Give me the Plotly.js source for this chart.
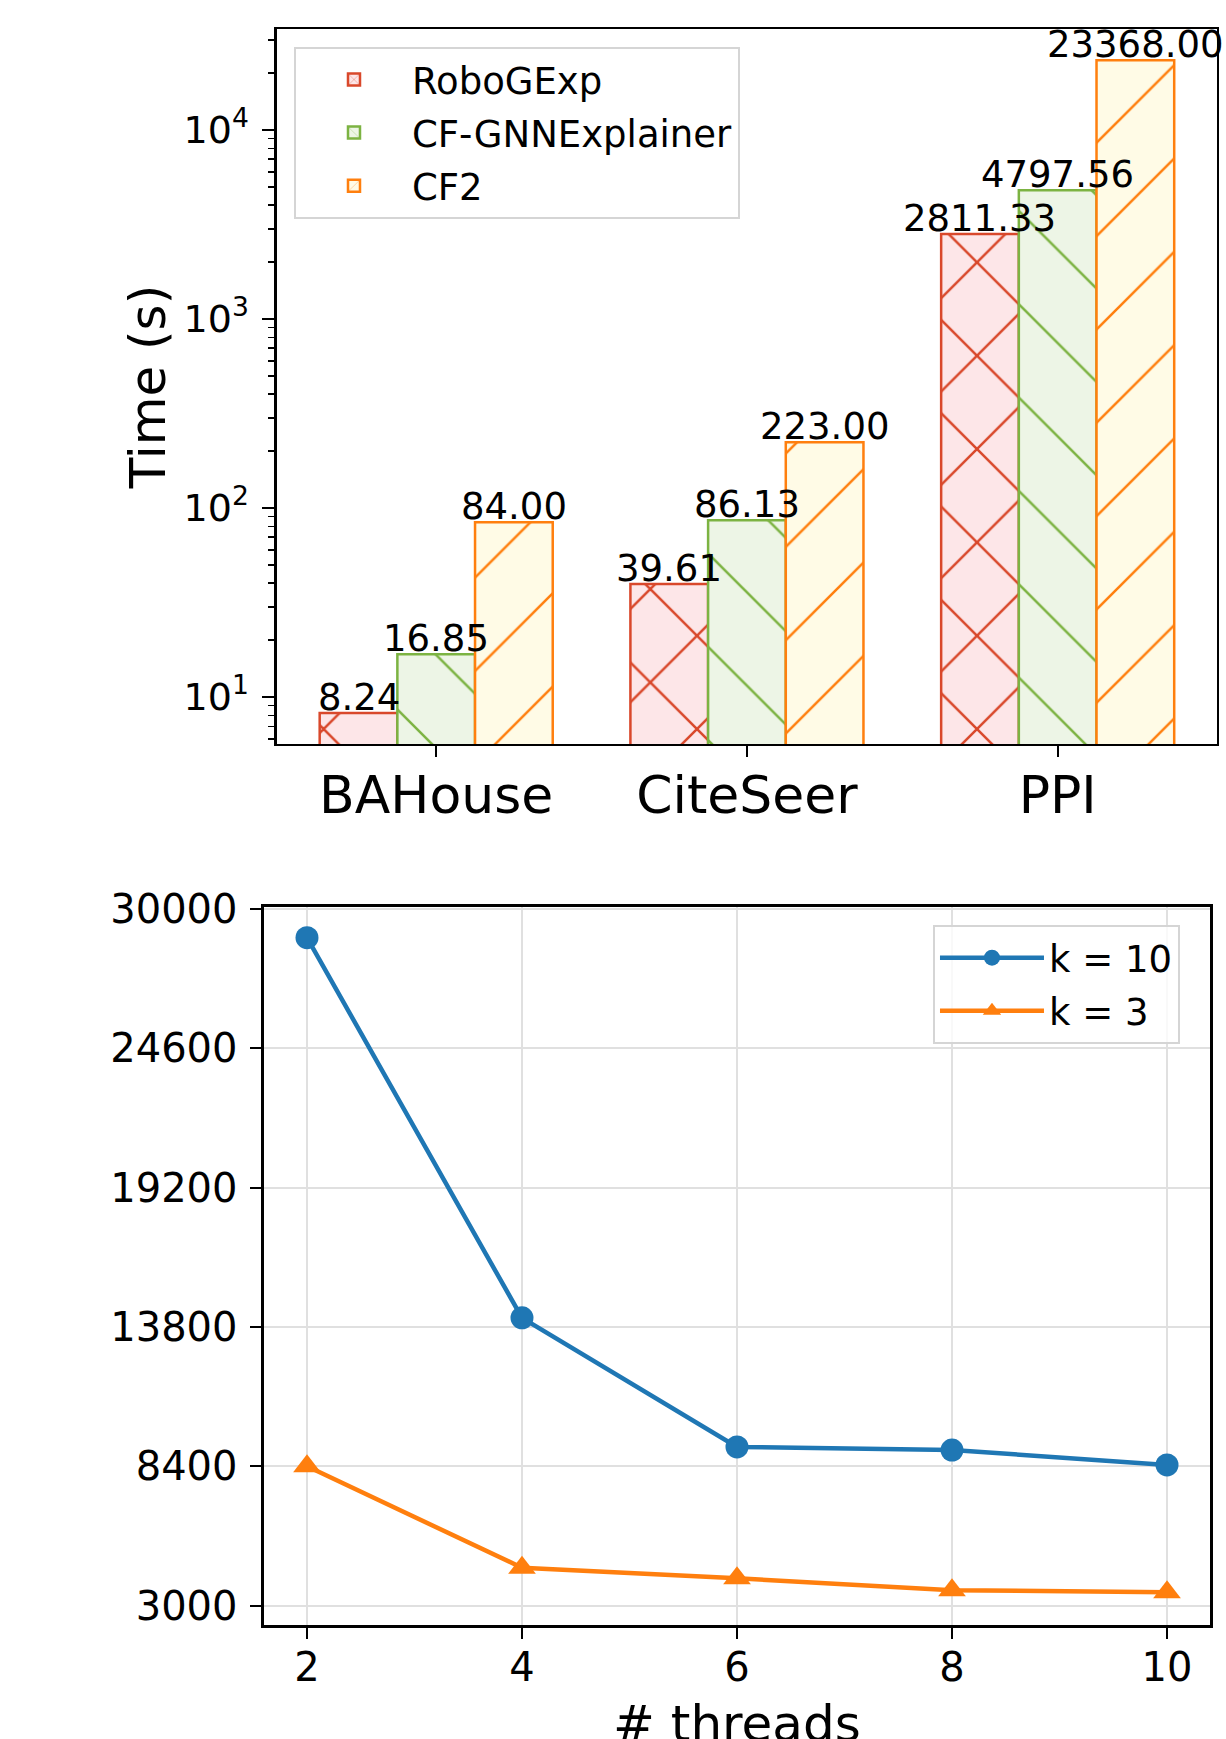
<!DOCTYPE html>
<html><head><meta charset="utf-8">
<script src="https://cdn.plot.ly/plotly-3.0.1.min.js"></script>
<style>html,body{margin:0;padding:0;background:#fff}</style>
</head><body>
<div id="chart" style="width:1226px;height:1739px"></div>
<script>
// ---- data: top chart ----
const datasets = ['BAHouse', 'CiteSeer', 'PPI'];
const methodNames = ['RoboGExp', 'CF-GNNExplainer', 'CF2'];
const roboGExp = [8.24, 39.61, 2811.33];
const cfGnnExplainer = [16.85, 86.13, 4797.56];
const cf2 = [84.00, 223.00, 23368.00];
const logTickVals = [10, 100, 1000, 10000];
const logTickText = ['10<sup>1</sup>', '10<sup>2</sup>', '10<sup>3</sup>', '10<sup>4</sup>'];

// ---- data: bottom chart ----
const threads = [2, 4, 6, 8, 10];
const timeK10 = [28880, 14150, 9150, 9030, 8450];
const timeK3 = [8400, 4470, 4060, 3600, 3520];
const seriesNames = ['k = 10', 'k = 3'];
const linTickVals = [3000, 8400, 13800, 19200, 24600, 30000];
const xTitle2 = '# threads';

// ---- styles ----
const edgeColors = ['#D9482B', '#7CB342', '#FF7F0E'];
const fillColors = ['#FDE6E8', '#EDF5E6', '#FFFBE6'];
const hatchShapes = ['x', '\\', '/'];
const hatchSolidity = [0.075, 0.038, 0.038];
const FONT = 'DejaVu Sans, Liberation Sans, sans-serif';

const minorTicks = [];
for (let e = 0; e <= 4; e++) for (let m = 2; m <= 9; m++) minorTicks.push(m * Math.pow(10, e));

const barSeries = [roboGExp, cfGnnExplainer, cf2];
const xIdx = datasets.map((_, i) => i);
const barWidth = 0.25;

const traces = [];
barSeries.forEach((vals, j) => {
  traces.push({
    type: 'bar', x: xIdx, y: vals, name: methodNames[j],
    xaxis: 'x', yaxis: 'y', legend: 'legend', legendgroup: methodNames[j],
    marker: {
      color: fillColors[j],
      line: {color: edgeColors[j], width: 2.5},
      pattern: {shape: hatchShapes[j], fillmode: 'overlay', fgcolor: edgeColors[j], fgopacity: 1,
                size: 66, solidity: hatchSolidity[j]}
    },
    hoverinfo: 'x+y'
  });
});
traces.push({
  type: 'scatter', mode: 'lines+markers', x: threads, y: timeK10, name: seriesNames[0],
  xaxis: 'x2', yaxis: 'y2', legend: 'legend2', legendgroup: 'a',
  line: {color: '#1F77B4', width: 4.5}, marker: {symbol: 'circle', size: 23, color: '#1F77B4'}
});
traces.push({
  type: 'scatter', mode: 'lines+markers', x: threads, y: timeK3, name: seriesNames[1],
  xaxis: 'x2', yaxis: 'y2', legend: 'legend2', legendgroup: 'b',
  line: {color: '#FF7F0E', width: 4.5}, marker: {symbol: 'triangle-up', size: 24, color: '#FF7F0E'}
});

// value labels above bars (positioned through the axes)
const annotations = [];
barSeries.forEach((vals, j) => {
  vals.forEach((v, i) => {
    annotations.push({
      xref: 'x', yref: 'y', x: i + (j - 1) * barWidth, y: Math.log10(v),
      text: v.toFixed(2), showarrow: false, xanchor: 'center', yanchor: 'bottom', yshift: -8,
      font: {size: 37, color: '#000', family: FONT}
    });
  });
});
const x2dom = [0.21533, 0.98695];
annotations.push({
  xref: 'paper', yref: 'paper', x: (x2dom[0] + x2dom[1]) / 2, y: 0.0265,
  text: xTitle2, showarrow: false, xanchor: 'center', yanchor: 'top',
  font: {size: 50, color: '#000', family: FONT}
});

const axisCommon = {
  showline: true, linecolor: '#000', linewidth: 2.5, mirror: true,
  ticks: 'outside', tickcolor: '#000', tickwidth: 2, zeroline: false, automargin: false
};

const layout = {
  width: 1226, height: 1739,
  margin: {l: 0, r: 0, t: 0, b: 0, pad: 0},
  paper_bgcolor: '#fff', plot_bgcolor: '#fff',
  font: {family: FONT, color: '#000'},
  barmode: 'group', bargap: 0.25, bargroupgap: 0,
  showlegend: true,
  annotations: annotations,
  xaxis: Object.assign({}, axisCommon, {
    domain: [0.2259, 0.9926], anchor: 'y', range: [-0.5125, 2.5125],
    tickmode: 'array', tickvals: xIdx, ticktext: datasets, ticklen: 11,
    tickfont: {size: 52}, showgrid: false, ticklabelstandoff: -7
  }),
  yaxis: Object.assign({}, axisCommon, {
    domain: [0.57217, 0.98332], anchor: 'x', type: 'log', range: [0.7513, 4.534],
    tickmode: 'array', tickvals: logTickVals, ticktext: logTickText, ticklen: 12,
    tickfont: {size: 38}, showgrid: false, ticklabelstandoff: 6,
    minor: {tickmode: 'array', tickvals: minorTicks, ticks: 'outside', ticklen: 6, tickwidth: 1.5, tickcolor: '#000', showgrid: false},
    title: {text: 'Time (s)', font: {size: 50}}
  }),
  xaxis2: Object.assign({}, axisCommon, {
    domain: x2dom, anchor: 'y2', range: [1.6, 10.4],
    tickmode: 'array', tickvals: threads, ticklen: 11, ticklabelstandoff: -6,
    tickfont: {size: 40}, showgrid: true, gridcolor: '#E0E0E0', gridwidth: 2
  }),
  yaxis2: Object.assign({}, axisCommon, {
    domain: [0.06555, 0.47844], anchor: 'x2', range: [2250, 30070],
    tickmode: 'array', tickvals: linTickVals, tickformat: 'd', ticklen: 11, ticklabelstandoff: 5,
    tickfont: {size: 40}, showgrid: true, gridcolor: '#E0E0E0', gridwidth: 2
  }),
  legend: {
    x: 0.2398, y: 0.973, xanchor: 'left', yanchor: 'top',
    bgcolor: 'rgba(255,255,255,0.8)', bordercolor: '#D5D5D5', borderwidth: 2,
    font: {size: 37}, tracegroupgap: 2, itemwidth: 106
  },
  legend2: {
    x: 0.761, y: 0.468, xanchor: 'left', yanchor: 'top',
    bgcolor: 'rgba(255,255,255,0.8)', bordercolor: '#D5D5D5', borderwidth: 2,
    font: {size: 37}, tracegroupgap: 2, itemwidth: 104
  }
};

Plotly.newPlot('chart', traces, layout, {displayModeBar: false, staticPlot: true});
</script>
</body></html>
